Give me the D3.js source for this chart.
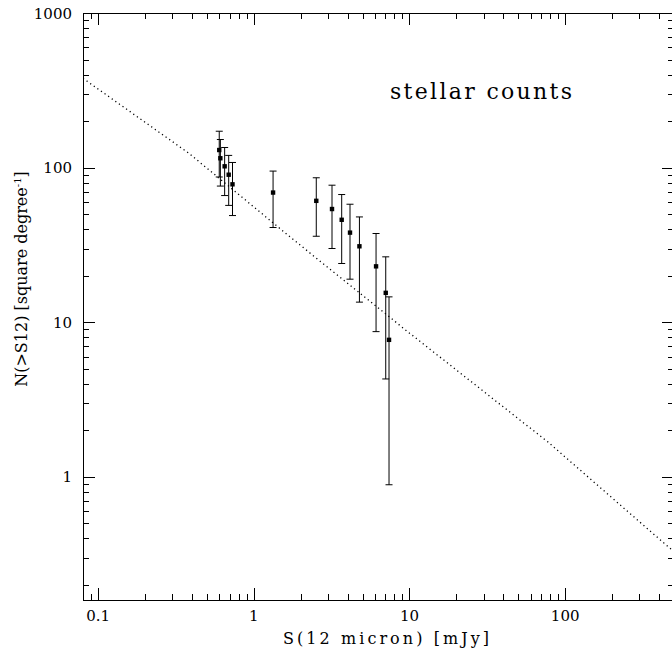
<!DOCTYPE html>
<html>
<head>
<meta charset="utf-8">
<script src="https://cdn.jsdelivr.net/npm/d3@7"></script>
<style>
  body { margin: 0; background: #fff; }
  svg { display: block; }
  text { font-family: "DejaVu Serif", serif; fill: #000; }
</style>
</head>
<body>
<svg id="chart" width="672" height="654"></svg>
<script>
// stellar counts data
let fluxes = [0.60, 0.61, 0.65, 0.69, 0.73, 1.33, 2.52, 3.18, 3.67, 4.15, 4.77, 6.1, 7.04, 7.39];
let counts = [130, 115, 102, 90, 78, 69, 61, 54, 46, 38, 31, 23, 15.5, 7.7];
let upper  = [172, 152, 135, 120, 108, 95, 86, 77, 67, 58, 48, 37.5, 26.5, 14.6];
let lower  = [87, 76, 66, 57, 49, 41, 36, 30, 24, 19, 13.5, 8.7, 4.3, 0.89];

// model curve (dotted)
let modelX = [0.08, 0.384, 1.76, 9.8, 77.6, 464, 500];
let modelY = [378, 123.6, 34.8, 8.65, 1.68, 0.35, 0.33];

let xTickLabels = ["0.1", "1", "10", "100"];
let yTickLabels = ["1", "10", "100", "1000"];

const pLeft = 83, pRight = 674, pTop = 13, pBottom = 600;

let svg = d3.select("#chart");

let xScale = d3.scaleLog().domain([0.08, 500]).range([pLeft, pRight]);
let yScale = d3.scaleLog().domain([0.16, 1000]).range([pBottom, pTop]);

// clip for the model line
svg.append("clipPath").attr("id", "plotclip")
  .append("rect")
  .attr("x", pLeft).attr("y", pTop)
  .attr("width", pRight - pLeft).attr("height", pBottom - pTop);

// ticks on all four sides, pointing in
let xMajor = xTickLabels.map(d => +d);
let xMinor = [];
for (let dec of [0.01, 0.1, 1, 10, 100]) {
  for (let k = 2; k <= 9; k++) {
    let v = dec * k;
    if (v >= 0.08 && v <= 500) xMinor.push(v);
  }
}
let yMajor = yTickLabels.map(d => +d);
let yMinor = [];
for (let dec of [0.1, 1, 10, 100]) {
  for (let k = 2; k <= 9; k++) {
    let v = dec * k;
    if (v >= 0.16 && v <= 1000) yMinor.push(v);
  }
}

let ticks = svg.append("g").attr("stroke", "#000").attr("stroke-width", 1);

function xTicks(vals, len) {
  ticks.selectAll(null).data(vals).join("line")
    .attr("x1", d => Math.round(xScale(d)) + 0.5).attr("x2", d => Math.round(xScale(d)) + 0.5)
    .attr("y1", pBottom).attr("y2", pBottom - len);
  ticks.selectAll(null).data(vals).join("line")
    .attr("x1", d => Math.round(xScale(d)) + 0.5).attr("x2", d => Math.round(xScale(d)) + 0.5)
    .attr("y1", pTop).attr("y2", pTop + len);
}
function yTicks(vals, len) {
  ticks.selectAll(null).data(vals).join("line")
    .attr("y1", d => Math.round(yScale(d)) + 0.5).attr("y2", d => Math.round(yScale(d)) + 0.5)
    .attr("x1", pLeft).attr("x2", pLeft + len);
  ticks.selectAll(null).data(vals).join("line")
    .attr("y1", d => Math.round(yScale(d)) + 0.5).attr("y2", d => Math.round(yScale(d)) + 0.5)
    .attr("x1", pRight).attr("x2", pRight - len);
}
xTicks(xMajor, 12);
xTicks(xMinor, 6);
yTicks(yMajor, 12);
yTicks(yMinor, 6);

// frame
svg.append("rect")
  .attr("x", pLeft + 0.5).attr("y", pTop + 0.5)
  .attr("width", pRight - pLeft).attr("height", pBottom - pTop)
  .attr("fill", "none").attr("stroke", "#000").attr("stroke-width", 1);

// tick labels
svg.selectAll(".xlab").data(xTickLabels).join("text")
  .attr("class", "xlab")
  .attr("x", d => xScale(+d))
  .attr("y", 621)
  .attr("text-anchor", "middle")
  .attr("font-size", 15)
  .text(d => d);

svg.selectAll(".ylab").data(yTickLabels).join("text")
  .attr("class", "ylab")
  .attr("x", 72)
  .attr("y", d => yScale(+d) + 5.5)
  .attr("text-anchor", "end")
  .attr("font-size", 15)
  .text(d => d);

// axis titles
svg.append("text")
  .attr("x", 386).attr("y", 644)
  .attr("text-anchor", "middle")
  .attr("font-size", 16)
  .attr("textLength", 206)
  .text("S(12 micron) [mJy]");

let yt = svg.append("text")
  .attr("transform", "translate(27,279) rotate(-90)")
  .attr("text-anchor", "middle")
  .attr("font-size", 16);
yt.append("tspan").text("N(>S12) [square degree");
yt.append("tspan").attr("dy", -6).attr("font-size", 10).text("-1");
yt.append("tspan").attr("dy", 6).text("]");

svg.append("text")
  .attr("x", 390).attr("y", 99)
  .attr("font-size", 22)
  .attr("textLength", 182)
  .text("stellar counts");

// model line, dotted
let model = modelX.map((x, i) => [x, modelY[i]]);
svg.append("path")
  .attr("clip-path", "url(#plotclip)")
  .attr("d", d3.line().x(d => xScale(d[0])).y(d => yScale(d[1]))(model))
  .attr("fill", "none")
  .attr("stroke", "#000")
  .attr("stroke-width", 1.3)
  .attr("stroke-dasharray", "1.2,3.2");

// error bars and points
let pts = fluxes.map((f, i) => ({ x: f, y: counts[i], hi: upper[i], lo: lower[i] }));
let eb = svg.append("g").attr("stroke", "#000").attr("stroke-width", 1);
eb.selectAll(".bar").data(pts).join("line")
  .attr("x1", d => xScale(d.x)).attr("x2", d => xScale(d.x))
  .attr("y1", d => yScale(d.hi)).attr("y2", d => yScale(d.lo));
eb.selectAll(".capt").data(pts).join("line")
  .attr("x1", d => xScale(d.x) - 3.5).attr("x2", d => xScale(d.x) + 3.5)
  .attr("y1", d => yScale(d.hi)).attr("y2", d => yScale(d.hi));
eb.selectAll(".capb").data(pts).join("line")
  .attr("x1", d => xScale(d.x) - 3.5).attr("x2", d => xScale(d.x) + 3.5)
  .attr("y1", d => yScale(d.lo)).attr("y2", d => yScale(d.lo));

svg.append("g").selectAll("rect").data(pts).join("rect")
  .attr("x", d => xScale(d.x) - 2.2)
  .attr("y", d => yScale(d.y) - 2.2)
  .attr("width", 4.4).attr("height", 4.4)
  .attr("fill", "#000");
</script>
</body>
</html>
